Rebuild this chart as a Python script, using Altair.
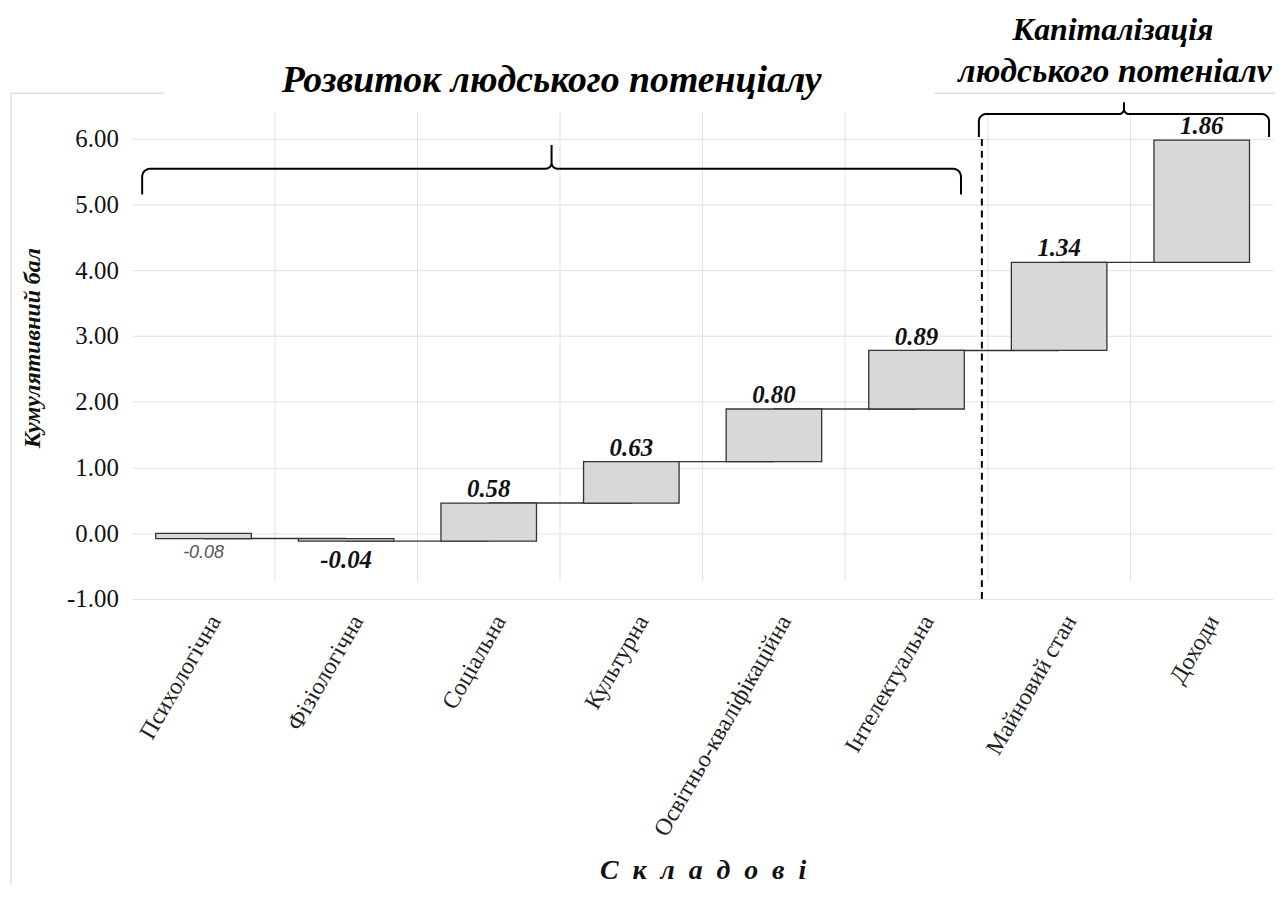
import math
import altair as alt
import pandas as pd

# ---------------- data ----------------
categories = ["Психологічна", "Фізіологічна", "Соціальна", "Культурна",
              "Освітньо-кваліфікаційна", "Інтелектуальна", "Майновий стан", "Доходи"]
deltas = [-0.08, -0.04, 0.58, 0.63, 0.80, 0.89, 1.34, 1.86]
y_ticks = [-1, 0, 1, 2, 3, 4, 5, 6]
title_left = "Розвиток людського потенціалу"
title_right_1 = "Капіталізація"
title_right_2 = "людського потеніалv"
y_title = "Кумулятивний бал"
x_title = "\u2002".join("Складові")

ends = pd.Series(deltas).cumsum().round(2)
starts = ends.shift(1, fill_value=0.0)
df = pd.DataFrame({
    "cat": categories,
    "idx": list(range(len(categories))),
    "delta": deltas,
    "start": starts,
    "end": ends,
    "label": [f"{d:.2f}" for d in deltas],
    "next": categories[1:] + [categories[-1]],
})

# ---------------- layout ----------------
W, H = 1148, 493
SERIF = "Liberation Serif"
N = len(categories)

xs = alt.Scale(domain=categories, paddingInner=0.33, paddingOuter=0.165)
ys = alt.Scale(domain=[-1, 6.45], nice=False, zero=False)

x_axis = alt.Axis(
    title=x_title, labelAngle=-60, labelFont=SERIF, labelFontSize=24,
    labelColor="#222222", labelPadding=18, labelOffset=12, labelLimit=400,
    ticks=False, domain=False, grid=False,
    titleFont=SERIF, titleFontStyle="italic", titleFontWeight="bold",
    titleFontSize=28, titleY=273, titleBaseline="middle", titleColor="#111111",
    titleLimit=600,
)
y_axis = alt.Axis(
    values=y_ticks, labelExpr="replace(format(datum.value, '.2f'), '\u2212', '-')",
    labelFont=SERIF, labelFontSize=25,
    labelColor="#111111", labelPadding=14, ticks=False, domain=False,
    gridColor="#e2e2e2", title=y_title, titleFont=SERIF,
    titleFontStyle="italic", titleFontWeight="bold", titleFontSize=24,
    titleX=-100, titleY=240, titleAlign="center", titleBaseline="middle",
    titleColor="#111111",
)

base = alt.Chart(df)

connectors = base.transform_filter("datum.idx < 7").mark_rule(
    color="#333333", strokeWidth=1.4
).encode(
    x=alt.X("cat:N", scale=xs, axis=x_axis, sort=categories),
    x2="next:N",
    y=alt.Y("end:Q", scale=ys, axis=y_axis),
)

bars = base.mark_bar(fill="#d8d8d8", stroke="#333333", strokeWidth=1.3).encode(
    x=alt.X("cat:N", scale=xs, sort=categories),
    y=alt.Y("start:Q", scale=ys),
    y2="end:Q",
)

pos_labels = base.transform_filter("datum.delta > 0").mark_text(
    font=SERIF, fontStyle="italic", fontWeight="bold", fontSize=25,
    baseline="alphabetic", dy=-6, color="#111111"
).encode(x=alt.X("cat:N", scale=xs, sort=categories), y=alt.Y("end:Q", scale=ys), text="label:N")

neg_bold = base.transform_filter("datum.idx == 1").mark_text(
    font=SERIF, fontStyle="italic", fontWeight="bold", fontSize=25,
    baseline="top", dy=7, color="#111111"
).encode(x=alt.X("cat:N", scale=xs, sort=categories), y=alt.Y("end:Q", scale=ys), text="label:N")

neg_grey = base.transform_filter("datum.idx == 0").mark_text(
    font="Liberation Sans", fontStyle="italic", fontSize=18,
    baseline="top", dy=6, color="#555555"
).encode(x=alt.X("cat:N", scale=xs, sort=categories), y=alt.Y("end:Q", scale=ys), text="label:N")

main = alt.layer(connectors, bars, pos_labels, neg_bold, neg_grey)

# vertical grid lines between the category bands
vgrid = alt.Chart(pd.DataFrame({"k": list(range(1, N))})).mark_rule(
    color="#e2e2e2", strokeWidth=1
).encode(
    x=alt.X("k:Q", scale=alt.Scale(domain=[0, N], range=[0, W]), axis=None),
    y=alt.value(3), y2=alt.value(475),
)

# ---------------- annotations (pixel layout) ----------------
def brace(bid, x0, x1, xm, yh, yend, ytip, r_end=8, r_mid=6):
    pts = [(x0, yend)]
    cx, cy = x0 + r_end, yh + r_end
    for k in range(7):
        t = math.pi + k * (math.pi / 2) / 6
        pts.append((cx + r_end * math.cos(t), cy + r_end * math.sin(t)))
    cx, cy = xm - r_mid, yh - r_mid
    for k in range(7):
        t = math.pi / 2 - k * (math.pi / 2) / 6
        pts.append((cx + r_mid * math.cos(t), cy + r_mid * math.sin(t)))
    pts.append((xm, ytip))
    cx, cy = xm + r_mid, yh - r_mid
    for k in range(7):
        t = math.pi - k * (math.pi / 2) / 6
        pts.append((cx + r_mid * math.cos(t), cy + r_mid * math.sin(t)))
    cx, cy = x1 - r_end, yh + r_end
    for k in range(7):
        t = 1.5 * math.pi + k * (math.pi / 2) / 6
        pts.append((cx + r_end * math.cos(t), cy + r_end * math.sin(t)))
    pts.append((x1, yend))
    return [{"b": bid, "i": i, "px": p[0], "py": p[1]} for i, p in enumerate(pts)]

brace_pts = brace("L", 10, 834, 422, 60, 86, 36) + brace("R", 852, 1144, 998, 5, 28, -7, r_end=7, r_mid=5)
braces = alt.Chart(pd.DataFrame(brace_pts)).mark_line(color="#000000", strokeWidth=2).encode(
    x=alt.X("px:Q", scale=None), y=alt.Y("py:Q", scale=None), order="i:Q", detail="b:N"
)

one = alt.Chart(pd.DataFrame({"a": [0]}))
dashed = one.mark_rule(color="#000000", strokeWidth=2, strokeDash=[7, 5]).encode(
    x=alt.value(855), y=alt.value(30), y2=alt.value(H)
)
frame_l = one.mark_rule(color="#d0d0d0", strokeWidth=1).encode(
    x=alt.value(-122), y=alt.value(-16), y2=alt.value(790)
)
frame_t1 = one.mark_rule(color="#d0d0d0", strokeWidth=1).encode(
    x=alt.value(-122), x2=alt.value(32), y=alt.value(-16)
)
frame_t2 = one.mark_rule(color="#d0d0d0", strokeWidth=1).encode(
    x=alt.value(807), x2=alt.value(1150), y=alt.value(-16)
)

def title_text(txt, x, y, size):
    return one.mark_text(
        text=txt, font=SERIF, fontStyle="italic", fontWeight="bold", fontSize=size,
        align="center", baseline="alphabetic", color="#000000"
    ).encode(x=alt.value(x), y=alt.value(y))

t1 = title_text(title_left, 422, -17, 38)
t2 = title_text(title_right_1, 987, -70, 32)
t3 = title_text(title_right_2, 989, -27, 34)

chart = alt.layer(
    vgrid, main, braces, dashed, frame_l, frame_t1, frame_t2, t1, t2, t3
).resolve_scale(x="independent", y="independent").properties(
    width=W, height=H,
    autosize=alt.AutoSizeParams(type="none"),
    padding={"left": 125, "top": 99, "right": 4, "bottom": 285},
    background="white",
).configure_view(stroke=None)

chart.save("out.html", embed_options={"renderer": "svg", "actions": False})
